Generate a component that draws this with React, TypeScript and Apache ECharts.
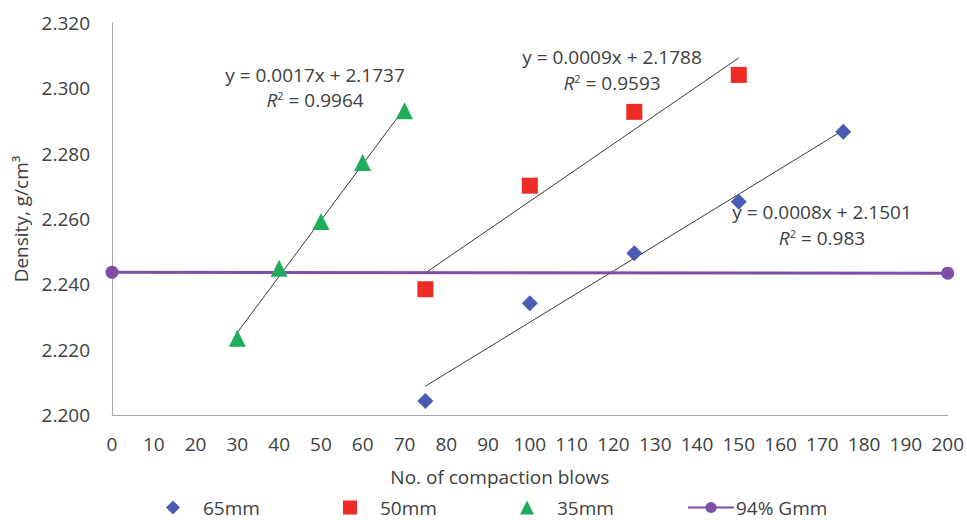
import React, { useEffect, useRef } from "react";
import * as echarts from "echarts";

const blows65 = [75, 100, 125, 150, 175];
const density65 = [2.2043, 2.2342, 2.2495, 2.2653, 2.2867];
const blows50 = [75, 100, 125, 150];
const density50 = [2.2385, 2.2702, 2.2928, 2.3041];
const blows35 = [30, 40, 50, 60, 70];
const density35 = [2.2235, 2.2449, 2.2592, 2.2773, 2.2931];
const blowsGmm = [0, 200];
const densityGmm = [2.2437, 2.2434];

const eq35 = ["y = 0.0017x + 2.1737", "0.9964"];
const eq50 = ["y = 0.0009x + 2.1788", "0.9593"];
const eq65 = ["y = 0.0008x + 2.1501", "0.983"];

const FONT = "'Open Sans', sans-serif";
const FS = 19;
const TXT = "#404040";

function trend(xs: number[], ys: number[]) {
  const n = xs.length;
  const mx = xs.reduce((a, b) => a + b, 0) / n;
  const my = ys.reduce((a, b) => a + b, 0) / n;
  let sxy = 0, sxx = 0;
  for (let i = 0; i < n; i++) {
    sxy += (xs[i] - mx) * (ys[i] - my);
    sxx += (xs[i] - mx) * (xs[i] - mx);
  }
  const b = sxy / sxx;
  const a = my - b * mx;
  const x0 = Math.min(...xs), x1 = Math.max(...xs);
  return [[x0, a + b * x0], [x1, a + b * x1]];
}

const zip = (xs: number[], ys: number[]) => xs.map((x, i) => [x, ys[i]]);

function eqText(eq: string[], cx: number, cy: number, gap: number) {
  return [
    {
      type: "text", x: cx, y: cy,
      style: { text: eq[0], fill: TXT, font: `${FS}px ${FONT}`, textAlign: "center", textVerticalAlign: "middle" },
    },
    {
      type: "text", x: cx, y: cy + gap,
      style: {
        text: `{i|R}{s|2}{n| = ${eq[1]}}`, fill: TXT, textAlign: "center", textVerticalAlign: "middle",
        rich: {
          i: { fontStyle: "italic", fontSize: FS, fontFamily: FONT, fill: TXT },
          s: { fontSize: 11, fontFamily: FONT, fill: TXT, verticalAlign: "top", padding: [0, 0, 9, 0] },
          n: { fontSize: FS, fontFamily: FONT, fill: TXT },
        },
      },
    },
  ];
}

export default function App() {
  const ref = useRef<HTMLDivElement>(null);
  useEffect(() => {
    const chart = echarts.init(ref.current!, null, { renderer: "svg" });
    const trendStyle = { color: "#3a3a3a", width: 1 };
    const legendBase = {
      bottom: 3, itemHeight: 14, itemGap: 0, padding: 0,
      textStyle: { fontFamily: FONT, fontSize: FS, color: TXT },
    };
    const scatterLegend = { ...legendBase, itemWidth: 14, textStyle: { ...legendBase.textStyle, padding: [0, 0, 0, 18] } };
    chart.setOption({
      animation: false,
      backgroundColor: "#fff",
      grid: { left: 112, right: 19, top: 23, bottom: 105 },
      xAxis: {
        type: "value", min: 0, max: 200, interval: 10,
        name: "No. of compaction blows", nameLocation: "middle", nameGap: 52,
        nameTextStyle: { fontFamily: FONT, fontSize: FS, color: TXT, padding: [0, 60, 0, 0] },
        axisLine: { lineStyle: { color: "#a6a6a6" } },
        axisTick: { show: false },
        splitLine: { show: false },
        axisLabel: { fontFamily: FONT, fontSize: FS, color: TXT, margin: 19 },
      },
      yAxis: {
        type: "value", min: 2.2, max: 2.32, interval: 0.02,
        name: "Density, g/cm³", nameLocation: "middle", nameGap: 82,
        nameTextStyle: { fontFamily: FONT, fontSize: FS, color: TXT },
        axisLine: { show: true, lineStyle: { color: "#a6a6a6" } },
        axisTick: { show: false },
        splitLine: { show: false },
        axisLabel: { fontFamily: FONT, fontSize: FS, color: TXT, margin: 22, formatter: (v: number) => v.toFixed(3) },
      },
      legend: [
        { ...scatterLegend, left: 166, data: ["65mm"] },
        { ...scatterLegend, left: 343, data: ["50mm"] },
        { ...scatterLegend, left: 520, data: ["35mm"] },
        { ...legendBase, itemWidth: 46, left: 687, data: ["94% Gmm"], textStyle: { ...legendBase.textStyle, padding: [0, 0, 0, -3] } },
      ],
      series: [
        { type: "line", data: trend(blows65, density65), symbol: "none", lineStyle: trendStyle, silent: true, z: 1 },
        { type: "line", data: trend(blows50, density50), symbol: "none", lineStyle: trendStyle, silent: true, z: 1 },
        { type: "line", data: trend(blows35, density35), symbol: "none", lineStyle: trendStyle, silent: true, z: 1 },
        {
          name: "94% Gmm", type: "line", data: zip(blowsGmm, densityGmm),
          symbol: "circle", symbolSize: 13, lineStyle: { color: "#7f4fa6", width: 3 },
          itemStyle: { color: "#7f4fa6" }, z: 2,
        },
        { name: "65mm", type: "scatter", data: zip(blows65, density65), symbol: "diamond", symbolSize: 16, itemStyle: { color: "#4b5bb2", opacity: 1 }, z: 3 },
        { name: "50mm", type: "scatter", data: zip(blows50, density50), symbol: "rect", symbolSize: 16, itemStyle: { color: "#ee2b24", opacity: 1 }, z: 3 },
        { name: "35mm", type: "scatter", data: zip(blows35, density35), symbol: "triangle", symbolSize: 17, itemStyle: { color: "#21ac5b", opacity: 1 }, z: 3 },
      ],
      graphic: [
        ...eqText(eq35, 315, 75, 25),
        ...eqText(eq50, 612, 57, 26),
        ...eqText(eq65, 822, 212, 26),
      ],
    });
    return () => chart.dispose();
  }, []);
  return <div ref={ref} style={{ position: "fixed", left: 0, top: 0, width: 967, height: 520 }} />;
}
